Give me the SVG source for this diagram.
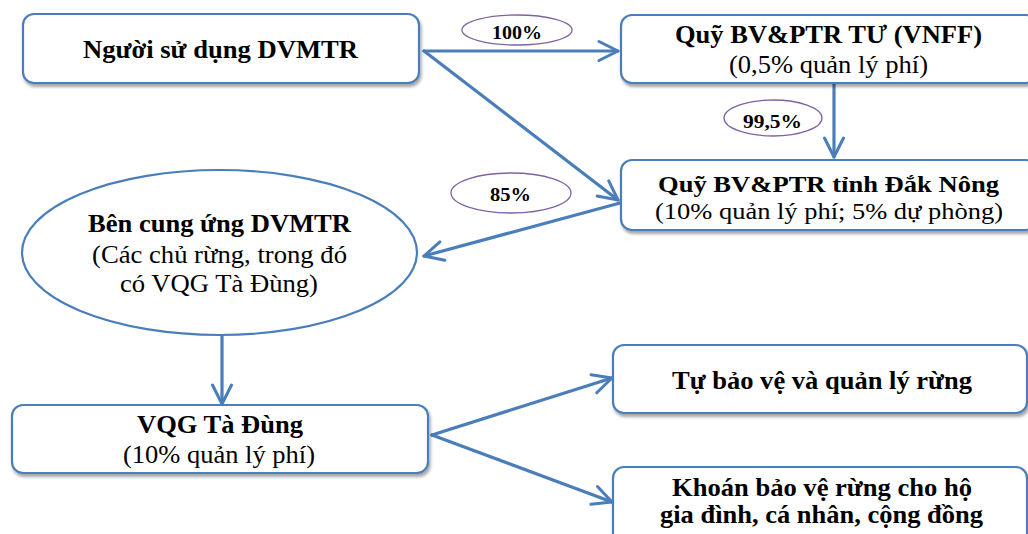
<svg xmlns="http://www.w3.org/2000/svg" width="1028" height="534" viewBox="0 0 1028 534">
<defs>
<filter id="sh" x="-10%" y="-20%" width="120%" height="150%">
<feDropShadow dx="1.5" dy="3" stdDeviation="1.8" flood-color="#000" flood-opacity="0.35"/>
</filter>
<marker id="ah" markerUnits="userSpaceOnUse" viewBox="-22 -12 24 24" refX="0" refY="0" markerWidth="24" markerHeight="24" orient="auto">
<path d="M-19,-9.5 L0,0 L-19,9.5" fill="none" stroke="#4a7ebb" stroke-width="3" stroke-linecap="round" stroke-linejoin="round"/>
</marker>
<style>
.box{fill:#fff;stroke:#4a7ebb;stroke-width:2.2;filter:url(#sh)}
.ell{fill:#fff;stroke:#4a7ebb;stroke-width:2.2}
.lab{fill:#fff;stroke:#7f63a1;stroke-width:1.3}
.con{fill:none;stroke:#4a7ebb;stroke-width:3.2;stroke-linecap:round;marker-end:url(#ah)}
text{font-family:"Liberation Serif","Times New Roman",serif;fill:#000;text-anchor:middle}
.b{font-weight:bold;font-size:26px}
.r{font-size:26px}
.s{font-size:24px}
.l{font-weight:bold;font-size:19px}
</style>
</defs>
<g id="connectors">
<line class="con" x1="424" y1="51" x2="618" y2="51"/>
<line class="con" x1="424" y1="51" x2="618" y2="200"/>
<line class="con" x1="834" y1="84" x2="834" y2="157"/>
<line class="con" x1="620" y1="203" x2="424" y2="256"/>
<line class="con" x1="222" y1="336" x2="222" y2="404"/>
<line class="con" x1="432" y1="435" x2="612" y2="378"/>
<line class="con" x1="432" y1="435" x2="612" y2="502"/>
</g>
<g id="lbl100">
<ellipse class="lab" cx="517" cy="30" rx="55" ry="15"/>
<text class="l" x="517" y="39" textLength="50" lengthAdjust="spacingAndGlyphs">100%</text>
</g>
<g id="lbl995">
<ellipse class="lab" cx="773" cy="118" rx="49" ry="18"/>
<text class="l" x="772.5" y="128" textLength="59" lengthAdjust="spacingAndGlyphs">99,5%</text>
</g>
<g id="lbl85">
<ellipse class="lab" cx="511" cy="193" rx="60" ry="20"/>
<text class="l" x="510.5" y="201" textLength="41" lengthAdjust="spacingAndGlyphs">85%</text>
</g>
<g id="nguoi-su-dung">
<rect class="box" x="23" y="14" width="396" height="69" rx="11"/>
<text class="b" x="220.5" y="58" textLength="275" lengthAdjust="spacingAndGlyphs">Người sử dụng DVMTR</text>
</g>
<g id="quy-tu">
<rect class="box" x="621" y="15" width="416" height="68" rx="11"/>
<text class="b" x="828.5" y="43" textLength="307" lengthAdjust="spacingAndGlyphs">Quỹ BV&amp;PTR TƯ (VNFF)</text>
<text class="r" x="828.5" y="73" textLength="199" lengthAdjust="spacingAndGlyphs">(0,5% quản lý phí)</text>
</g>
<g id="quy-dak-nong">
<rect class="box" x="621" y="160" width="416" height="70" rx="11"/>
<text class="b" x="828.5" y="192" style="font-size:24px" textLength="341" lengthAdjust="spacingAndGlyphs">Quỹ BV&amp;PTR tỉnh Đắk Nông</text>
<text class="s" x="829" y="219" textLength="348" lengthAdjust="spacingAndGlyphs">(10% quản lý phí; 5% dự phòng)</text>
</g>
<g id="ben-cung-ung">
<ellipse class="ell" cx="219.5" cy="252.5" rx="197.5" ry="82.5"/>
<text class="b" x="219.5" y="232" textLength="263" lengthAdjust="spacingAndGlyphs">Bên cung ứng DVMTR</text>
<text class="r" x="219.5" y="263" textLength="255" lengthAdjust="spacingAndGlyphs">(Các chủ rừng, trong đó</text>
<text class="r" x="219" y="292" textLength="198" lengthAdjust="spacingAndGlyphs">có VQG Tà Đùng)</text>
</g>
<g id="vqg-ta-dung">
<rect class="box" x="12" y="405" width="416" height="68" rx="11"/>
<text class="b" x="220" y="433" textLength="166" lengthAdjust="spacingAndGlyphs">VQG Tà Đùng</text>
<text class="r" x="219" y="463" textLength="192" lengthAdjust="spacingAndGlyphs">(10% quản lý phí)</text>
</g>
<g id="tu-bao-ve">
<rect class="box" x="613" y="345" width="414" height="68" rx="11"/>
<text class="b" x="822" y="389" textLength="300" lengthAdjust="spacingAndGlyphs">Tự bảo vệ và quản lý rừng</text>
</g>
<g id="khoan-bao-ve">
<rect class="box" x="613" y="467" width="414" height="80" rx="11"/>
<text class="b" x="822" y="496" textLength="300" lengthAdjust="spacingAndGlyphs">Khoán bảo vệ rừng cho hộ</text>
<text class="b" x="821.5" y="523" textLength="323" lengthAdjust="spacingAndGlyphs">gia đình, cá nhân, cộng đồng</text>
</g>
</svg>
